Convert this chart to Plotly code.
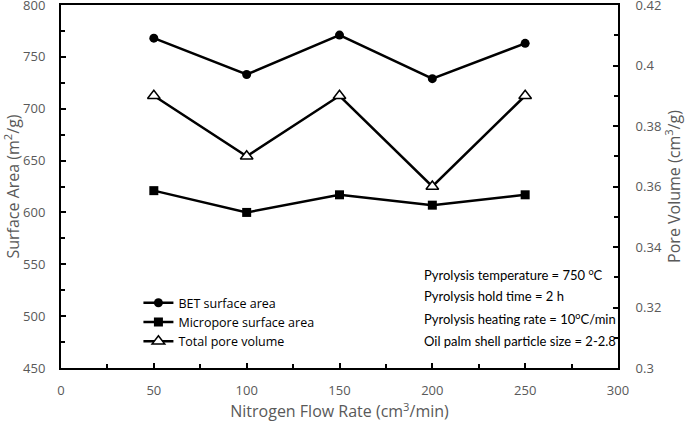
import plotly.graph_objects as go

flow_rate = [50, 100, 150, 200, 250]
bet_area = [768, 733, 771, 729, 763]
micropore_area = [621, 600, 617, 607, 617]
pore_volume = [0.39, 0.37, 0.39, 0.36, 0.39]

notes = [
    "Pyrolysis temperature = 750 <sup>o</sup>C",
    "Pyrolysis hold time = 2 h",
    "Pyrolysis heating rate = 10<sup>o</sup>C/min",
    "Oil palm shell particle size = 2-2.8",
]

FONT = "Open Sans"
NOTE_FONT = "Lato"
GRAY = "#595959"

fig = go.Figure()
fig.add_trace(go.Scatter(
    x=flow_rate, y=bet_area, name="BET surface area", mode="lines+markers",
    line=dict(color="black", width=2.5),
    marker=dict(symbol="circle", size=9, color="black")))
fig.add_trace(go.Scatter(
    x=flow_rate, y=micropore_area, name="Micropore surface area", mode="lines+markers",
    line=dict(color="black", width=2.5),
    marker=dict(symbol="square", size=9, color="black")))
fig.add_trace(go.Scatter(
    x=flow_rate, y=pore_volume, name="Total pore volume", mode="lines+markers",
    yaxis="y2",
    line=dict(color="black", width=2.5),
    marker=dict(symbol="triangle-up", size=11, color="white",
                line=dict(color="black", width=1.5))))

axis_common = dict(
    showline=True, linecolor="black", linewidth=2,
    ticks="inside", ticklen=5, tickwidth=2, tickcolor="black",
    showgrid=False, zeroline=False, automargin=False,
    ticklabeloverflow="allow",
    tickfont=dict(family=FONT, size=13, color=GRAY),
)

fig.update_layout(
    width=685, height=423,
    margin=dict(l=61, r=67, t=5, b=55),
    paper_bgcolor="white", plot_bgcolor="white",
    font=dict(family=FONT, color="black"),
    xaxis=dict(
        range=[0, 300], dtick=50, tick0=0, mirror=True, ticklabelstandoff=9,
        minor=dict(dtick=25, ticks="inside", ticklen=4, tickwidth=1.5, tickcolor="black"),
        title=dict(text="Nitrogen Flow Rate (cm<sup>3</sup>/min)",
                   font=dict(family=FONT, size=16, color=GRAY), standoff=8),
        **axis_common),
    yaxis=dict(
        range=[450, 800], dtick=50, tick0=450, ticklabelstandoff=11,
        minor=dict(dtick=25, ticks="inside", ticklen=4, tickwidth=1.5, tickcolor="black"),
        title=dict(text="Surface Area (m<sup>2</sup>/g)",
                   font=dict(family=FONT, size=16, color=GRAY), standoff=2),
        **axis_common),
    yaxis2=dict(
        range=[0.3, 0.42], dtick=0.02, tick0=0.3, overlaying="y", side="right",
        ticklabelstandoff=13,
        minor=dict(dtick=0.01, ticks="inside", ticklen=4, tickwidth=1.5, tickcolor="black"),
        title=dict(text="Pore Volume (cm<sup>3</sup>/g)",
                   font=dict(family=FONT, size=16, color=GRAY), standoff=6),
        **axis_common),
    legend=dict(
        x=0.139, y=0.22, xanchor="left", yanchor="top",
        bgcolor="rgba(0,0,0,0)", font=dict(family=FONT, size=12.5, color="black"),
        tracegroupgap=0, itemwidth=30,
    ),
    showlegend=True,
)

for i, t in enumerate(notes):
    fig.add_annotation(
        text=t, xref="paper", yref="paper", x=0.648, y=0.258 - i * 0.061,
        xanchor="left", yanchor="middle", showarrow=False, align="left",
        font=dict(family=NOTE_FONT, size=13, color="black"))

fig.write_html("out.html", config={"displayModeBar": False},
               post_script="document.body.style.margin='0';")
